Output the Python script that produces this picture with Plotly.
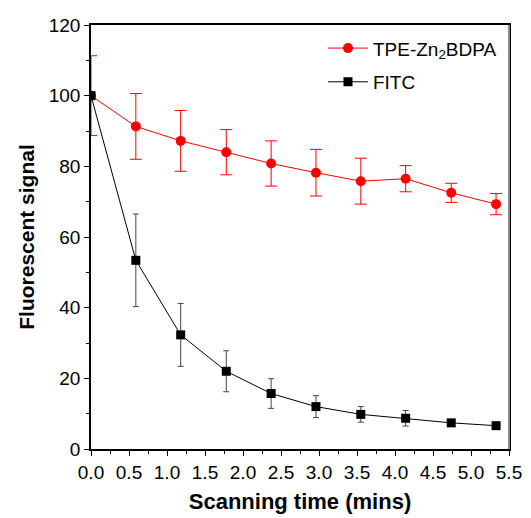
import plotly.graph_objects as go

# 走査時間 (min)
time = [0, 0.59, 1.18, 1.78, 2.37, 2.96, 3.55, 4.14, 4.74, 5.33]

tpe = [100, 91.3, 87.2, 84.0, 80.8, 78.2, 75.8, 76.5, 72.5, 69.3]
tpe_err = [11.3, 9.3, 8.6, 6.4, 6.4, 6.6, 6.5, 3.7, 2.7, 3.0]

fitc = [100, 53.4, 32.3, 22.0, 15.7, 12.0, 9.8, 8.7, 7.4, 6.6]
fitc_err = [0, 13.1, 8.9, 5.8, 4.2, 3.1, 2.2, 2.2, 0.8, 1.0]

fig = go.Figure()

fig.add_trace(go.Scatter(
    x=time, y=tpe, mode='lines+markers',
    name='TPE-Zn<sub>2</sub>BDPA', legendgroup='tpe',
    line=dict(color='#ff0000', width=1),
    marker=dict(symbol='circle', size=10, color='#ff0000'),
    error_y=dict(type='data', array=tpe_err, visible=True,
                 color='#ff0000', thickness=1, width=6)
))

fig.add_trace(go.Scatter(
    x=time, y=fitc, mode='lines+markers',
    name='FITC', legendgroup='fitc',
    line=dict(color='black', width=1),
    marker=dict(symbol='square', size=9, color='black'),
    error_y=dict(type='data', array=fitc_err, visible=True,
                 color='#444444', thickness=1, width=3)
))

# 右側の灰色の枠線
fig.add_shape(type='line', xref='paper', yref='paper',
              x0=1, x1=1, y0=0, y1=1,
              line=dict(color='#888888', width=2))

# ページ本体の余白(8px)を差し引いたマージン
fig.update_layout(
    width=531, height=518,
    margin=dict(l=83, r=30, t=17, b=77),
    paper_bgcolor='white', plot_bgcolor='white',
    font=dict(family='Liberation Sans, Arial, sans-serif', size=19, color='black'),
    showlegend=True,
    legend=dict(x=0.555, y=0.99, xanchor='left', yanchor='top',
                bgcolor='rgba(0,0,0,0)', font=dict(size=19),
                itemwidth=40, traceorder='grouped', tracegroupgap=6),
    xaxis=dict(
        range=[0, 5.5], dtick=0.5, tickformat='.1f', automargin=False,
        showline=True, linecolor='black', linewidth=1.5, mirror=True,
        ticks='outside', ticklen=5, tickcolor='black',
        minor=dict(dtick=0.25, ticks='outside', ticklen=3, tickcolor='black'),
        showgrid=False, zeroline=False,
        title=dict(text='<b>Scanning time (mins)</b>', font=dict(size=22), standoff=12),
    ),
    yaxis=dict(
        range=[0, 120], dtick=20, automargin=False,
        showline=True, linecolor='black', linewidth=1.5, mirror=True,
        ticks='outside', ticklen=5, tickcolor='black',
        minor=dict(dtick=10, ticks='outside', ticklen=3, tickcolor='black'),
        showgrid=False, zeroline=False,
        title=dict(text='<b>Fluorescent signal</b>', font=dict(size=21), standoff=8),
    ),
)

fig.write_html("out.html")
